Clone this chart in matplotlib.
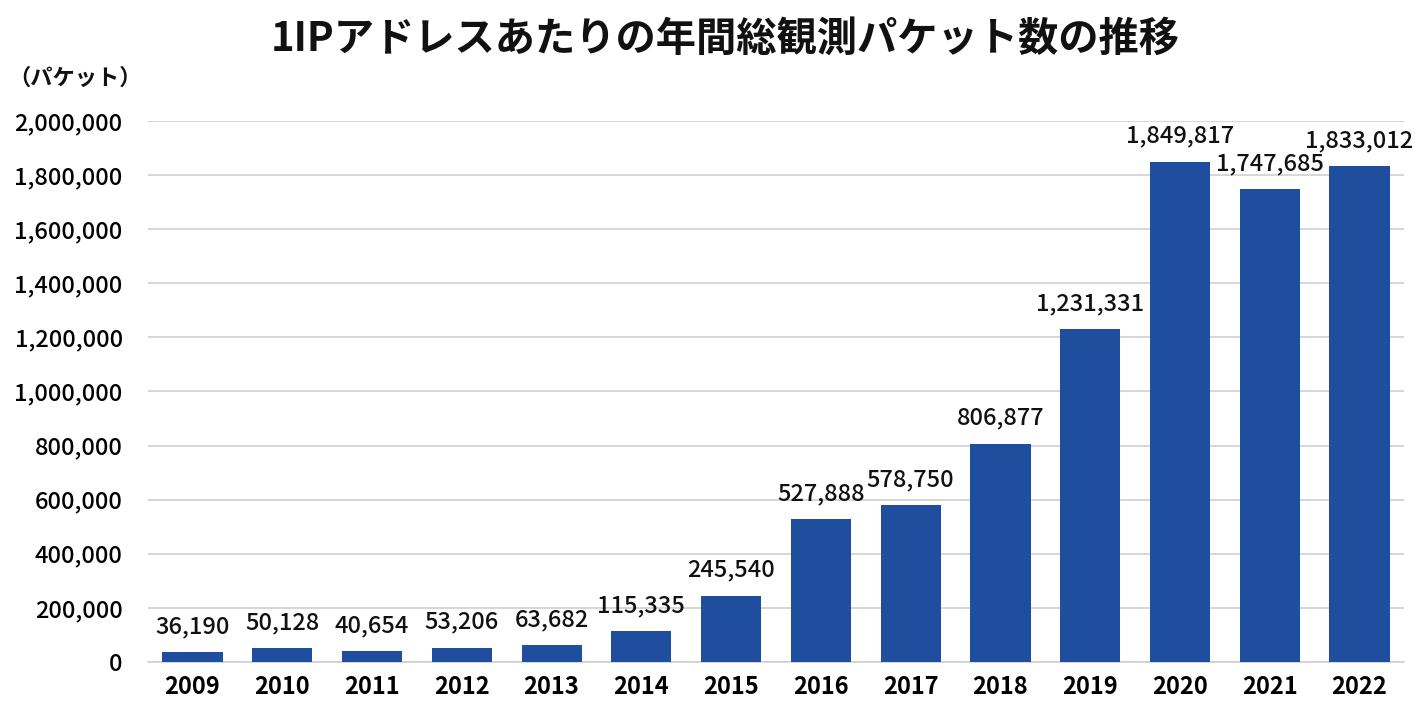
import matplotlib
matplotlib.use("Agg")
import matplotlib.pyplot as plt
from matplotlib.ticker import FuncFormatter

plt.rcParams["font.family"] = ["Noto Sans CJK JP", "DejaVu Sans"]

years = ["2009", "2010", "2011", "2012", "2013", "2014", "2015",
         "2016", "2017", "2018", "2019", "2020", "2021", "2022"]
packets = [36190, 50128, 40654, 53206, 63682, 115335, 245540,
           527888, 578750, 806877, 1231331, 1849817, 1747685, 1833012]

title = "1IPアドレスあたりの年間総観測パケット数の推移"
unit_label = "（パケット）"
bar_color = "#1f4e9f"

fig = plt.figure(figsize=(14.2, 7.1), dpi=100)
fig.patch.set_facecolor("white")
ax = fig.add_axes([0.104, 0.0676, 0.885, 0.762])

x = range(len(years))
bars = ax.bar(x, packets, width=0.67, color=bar_color, zorder=3)

ax.set_xlim(-0.5, len(years) - 0.5)
ax.set_ylim(0, 2000000)
ax.set_yticks(range(0, 2000001, 200000))
ax.yaxis.set_major_formatter(FuncFormatter(lambda v, p: f"{int(v):,}"))
ax.set_xticks(list(x))
ax.set_xticklabels(years, fontsize=17, fontweight="bold")
ax.tick_params(axis="y", labelsize=17, length=0, pad=18)
ax.tick_params(axis="x", length=0, pad=9)
for lbl in ax.get_yticklabels():
    lbl.set_fontweight("medium")

ax.grid(axis="y", color="#d0d0d0", linewidth=1.2, zorder=0)
for s in ["top", "right", "left"]:
    ax.spines[s].set_visible(False)
ax.spines["bottom"].set_color("#d0d0d0")
ax.spines["bottom"].set_linewidth(1.2)

for rect, v in zip(bars, packets):
    ax.annotate(f"{v:,}", (rect.get_x() + rect.get_width() / 2, v),
                xytext=(0, 10), textcoords="offset points",
                ha="center", va="bottom", fontsize=17,
                fontweight="medium", color="#111111")

fig.text(0.511, 0.945, title, ha="center", va="center",
         fontsize=29, fontweight="bold", color="#111111")
fig.text(0.006, 0.89, unit_label, ha="left", va="center",
         fontsize=16, fontweight="bold", color="#111111")

fig.savefig("out.png", dpi=100)
